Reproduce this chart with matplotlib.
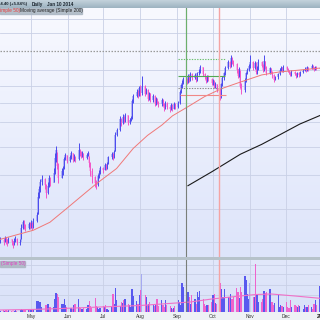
import matplotlib
matplotlib.use("Agg")
import numpy as np
import pandas as pd
import matplotlib.pyplot as plt
import matplotlib.dates as mdates
import matplotlib.transforms as mtransforms
from matplotlib.colors import LinearSegmentedColormap
from matplotlib.ticker import NullLocator

plt.rcParams['font.family'] = ['Liberation Sans', 'DejaVu Sans']

# daily closes / highs / lows (Apr 5 2013 .. Dec 30 2013)
close = [22.0, 21.8, 22.3, 21.9, 21.6, 22.1, 21.7, 21.5, 21.9, 22.2, 21.6, 21.8,
         23.8, 24.6, 24.1, 23.7, 24.3, 24.0, 24.5, 23.9, 24.8,
         25.7,
         28.8, 30.2, 31.6, 32.3, 31.0, 29.6, 30.8, 32.4, 31.5,
         33.5, 36.8, 38.6,
         35.0, 32.5, 33.8, 34.2,
         36.5, 37.4, 36.0, 36.9, 37.8, 36.3, 37.0, 36.4,
         38.5,
         38.0, 37.2, 37.9, 36.8, 37.5, 37.9,
         35.5, 33.8, 32.6, 31.4, 31.0,
         32.8, 33.4, 34.5, 34.0, 35.2, 34.6, 35.4,
         36.9, 37.6, 36.8, 38.2,
         42.5, 43.8,
         46.8, 45.6, 47.5, 46.2, 47.9, 45.8, 46.6, 47.2,
         52.5, 54.0,
         55.6, 54.3, 56.8, 55.0, 57.5, 54.8, 56.2,
         53.2, 55.0, 52.6, 54.2, 51.5, 53.0, 52.2, 51.3, 52.8,
         51.5, 50.2, 51.8, 50.6, 49.8, 51.2, 50.0, 51.6, 50.4, 51.9,
         55.5, 57.8, 58.6,
         60.2, 58.9, 61.3, 59.8, 62.0, 60.5, 61.6, 59.6, 62.4, 63.0, 64.8,
         62.0, 60.8, 59.4, 61.2, 60.0, 58.6,
         59.2, 57.4, 58.3, 56.1, 53.8,
         58.2, 60.5, 62.3,
         64.5, 66.8, 65.0, 68.6, 67.2, 66.0,
         63.5, 61.2, 64.0, 57.4, 56.2, 59.8, 62.5,
         63.8, 65.2, 67.0, 64.6, 66.5, 62.8, 64.2, 66.8, 65.4, 63.5, 67.2,
         65.0, 62.6, 64.4, 63.0,
         61.5, 59.9, 60.8, 62.0,
         63.8, 64.6, 63.2, 65.0, 64.2, 63.6,
         62.4, 61.8, 63.0, 62.0, 61.2, 62.6, 61.5, 62.8, 63.4,
         64.2, 63.6, 64.8, 63.9, 65.2, 64.5, 63.8, 64.9, 64.1, 64.4]

high = [22.4, 22.3, 22.6, 22.4, 22.1, 22.4, 22.2, 21.9, 22.3, 22.6, 22.3, 22.2,
        24.4, 25.0, 24.9, 24.3, 24.7, 24.6, 24.9, 24.6, 25.2,
        26.3,
        29.8, 30.9, 32.3, 33.0, 32.4, 31.2, 31.6, 33.0, 32.6,
        34.6, 37.8, 39.6,
        38.2, 35.6, 34.6, 35.0,
        37.0, 38.0, 37.5, 37.4, 38.3, 37.9, 37.6, 37.2,
        40.4,
        38.8, 38.3, 38.4, 37.9, 38.0, 38.4,
        37.2, 35.9, 34.5, 32.9, 32.0,
        33.2, 34.0, 35.0, 34.8, 35.6, 35.4, 35.9,
        37.3, 38.1, 37.8, 38.6,
        43.2, 44.4,
        47.6, 47.2, 48.2, 47.8, 48.6, 48.0, 47.3, 47.8,
        53.2, 54.8,
        56.5, 56.0, 57.6, 58.0, 61.2, 57.9, 57.0,
        56.4, 55.6, 55.2, 54.9, 54.6, 53.6, 53.4, 52.5, 53.4,
        53.0, 51.9, 52.4, 52.0, 50.9, 51.8, 51.5, 52.2, 51.8, 52.4,
        56.2, 58.4, 59.6,
        61.0, 60.6, 62.2, 61.8, 62.8, 62.4, 62.3, 61.7, 63.0, 64.0, 65.8,
        65.0, 62.6, 61.4, 61.8, 61.6, 60.5,
        60.0, 59.6, 58.9, 58.4, 56.8,
        58.8, 61.2, 63.0,
        65.3, 67.6, 67.4, 69.8, 69.0, 67.8,
        66.5, 64.2, 64.8, 63.6, 58.8, 60.6, 63.0,
        64.6, 66.0, 69.7, 67.4, 67.4, 66.8, 65.1, 68.0, 67.2, 65.9, 70.0,
        67.5, 65.4, 65.0, 64.6,
        63.4, 61.9, 61.4, 62.6,
        64.3, 65.2, 64.9, 65.6, 65.3, 64.6,
        63.8, 62.9, 63.5, 63.4, 62.5, 63.0, 62.8, 63.3, 64.0,
        64.8, 64.6, 65.3, 65.0, 65.9, 65.6, 64.8, 65.4, 65.1, 65.0]

low = [21.6, 21.4, 21.8, 21.5, 21.2, 21.6, 21.3, 21.0, 21.4, 21.7, 21.3, 21.4,
       22.1, 23.6, 23.6, 23.3, 23.6, 23.6, 23.8, 23.4, 23.8,
       24.6,
       25.9, 28.6, 29.8, 31.0, 30.3, 28.7, 29.4, 30.6, 30.8,
       31.6, 33.2, 35.8,
       34.4, 31.5, 32.4, 33.0,
       34.2, 36.2, 35.6, 35.8, 36.5, 35.9, 36.1, 35.8,
       36.2,
       37.2, 36.8, 36.9, 36.3, 36.6, 37.1,
       34.8, 32.8, 31.5, 30.6, 30.2,
       30.9, 32.5, 33.3, 33.5, 34.0, 34.1, 34.3,
       35.3, 36.5, 36.3, 36.7,
       38.4, 42.1,
       43.6, 44.9, 45.3, 45.6, 46.0, 45.2, 45.5, 46.2,
       47.0, 51.8,
       53.6, 53.5, 54.0, 54.2, 54.6, 54.0, 54.9,
       52.4, 52.8, 52.1, 52.0, 50.9, 51.2, 51.5, 50.6, 50.9,
       50.8, 49.4, 49.8, 50.0, 49.1, 49.5, 49.4, 49.8, 49.9, 50.1,
       51.6, 55.0, 57.0,
       58.2, 58.2, 58.6, 59.2, 59.4, 59.9, 60.0, 58.9, 59.5, 61.8, 62.6,
       61.4, 60.0, 58.7, 58.9, 59.3, 57.9,
       58.0, 56.8, 57.0, 55.4, 52.6,
       53.4, 57.6, 59.8,
       61.8, 63.9, 64.3, 64.8, 66.0, 65.2,
       62.6, 60.4, 60.8, 57.0, 54.8, 55.6, 59.2,
       61.9, 63.2, 64.5, 63.8, 64.0, 62.0, 62.2, 63.8, 64.8, 62.9, 63.2,
       64.1, 61.8, 62.0, 62.4,
       60.6, 59.0, 59.8, 60.1,
       61.8, 63.4, 62.7, 63.0, 63.6, 63.0,
       61.9, 61.2, 61.4, 61.5, 60.6, 61.0, 60.9, 61.3, 62.6,
       63.1, 62.9, 63.4, 63.2, 63.9, 64.0, 63.1, 63.6, 63.5, 63.7]

# volume, millions of shares
volume = [0.15, 0.2, 0.15, 0.2, 0.1, 0.2, 0.15, 0.2, 0.15, 0.2, 0.15, 0.2,
          0.3, 0.25, 0.2, 0.2, 0.25, 0.2, 0.3, 0.35, 0.3,
          1.1, 1.1, 1.0, 1.0, 0.5, 0.7, 0.7, 0.8, 0.8, 0.5,
          0.5, 1.3, 1.9, 1.8, 1.5, 0.8, 0.8, 1.3, 0.7, 0.5,
          0.4, 0.4, 0.3, 0.7, 0.8, 1.3, 0.5, 0.4, 0.3, 0.4,
          0.3, 0.7, 1.1, 0.6, 0.4, 1.4, 0.6, 0.5, 0.3, 0.4,
          0.6, 0.5, 0.7, 0.3, 0.25, 0.6, 1.8, 0.8, 2.4, 1.2,
          0.6, 1.0, 0.9, 1.2, 1.3, 0.8, 0.7, 0.5, 2.3, 1.6,
          1.1, 0.8, 1.7, 2.2, 3.8, 1.7, 1.5, 0.7, 0.8, 1.0,
          0.7, 0.6, 0.8, 1.3, 0.6, 1.2, 0.7, 0.5, 1.2, 0.7,
          0.6, 0.4, 0.3, 0.4, 0.6, 1.2, 1.0, 0.7, 2.9, 2.5,
          3.3, 2.0, 1.5, 0.8, 1.7, 1.3, 0.8, 2.0, 1.5, 2.1,
          1.3, 0.8, 0.6, 0.7, 0.7, 1.0, 1.7, 1.8, 0.9, 0.8,
          2.9, 2.3, 1.5, 1.5, 2.3, 1.5, 1.5, 1.8, 1.3, 1.5,
          2.4, 2.0, 1.4, 2.5, 2.0, 3.6, 3.2, 1.8, 1.3, 2.9,
          1.5, 1.5, 4.8, 1.8, 1.0, 1.0, 1.3, 2.1, 1.9, 2.0,
          2.3, 1.0, 1.0, 0.7, 0.9, 1.7, 0.5, 0.7, 0.6, 0.5,
          1.0, 0.5, 0.4, 1.2, 0.5, 0.7, 0.6, 0.5, 0.7, 0.6,
          0.3, 0.7, 0.5, 0.5, 0.7, 0.5, 0.3, 0.8, 1.2, 0.7,
          2.6]

# moving averages, sampled at trading-day indexes
ma50_day = [0, 20, 30, 40, 56, 70, 80, 88, 96, 103, 112, 122, 132, 142, 156, 166, 191]
ma50_val = [22.1, 23.4, 24.6, 26.8, 31.1, 34.4, 39.0, 42.3, 45.1, 47.8, 50.6, 53.9,
            56.6, 58.7, 61.7, 62.8, 64.4]
ma200_day = [112, 126, 144, 156, 168, 180, 191]
ma200_val = [30.9, 33.7, 37.6, 40.0, 42.6, 45.4, 47.9]
volma_day = [0, 18, 36, 60, 84, 114, 126, 144, 153, 162, 176, 191]
volma_val = [0.2, 0.25, 0.35, 0.5, 0.65, 1.0, 1.3, 1.6, 1.75, 1.8, 1.6, 1.37]

# drawn annotation lines
level_price = [68.1, 61.3, 57.0, 54.3]
level_start = ["2013-09-02", "2013-09-02", "2013-09-02", "2013-09-03"]
level_end = ["2013-10-11", "2013-10-11", "2013-10-09", "2013-10-12"]
resist_price = 71.8
vline_dates = ["2013-09-08", "2013-10-06"]

grid_prices = [21.7, 26.8, 33.1, 39.4, 45.9, 51.9, 57.6, 63.6, 80.2, 87.5]
vol_grid = [1.7, 2.7, 3.8, 4.7]
month_labels = ["May", "Jun", "Jul", "Aug", "Sep", "Oct", "Nov", "Dec"]
month_dates = ["2013-05-01", "2013-06-01", "2013-07-01", "2013-08-01",
               "2013-09-01", "2013-10-01", "2013-11-01", "2013-12-01"]

dates = pd.bdate_range("2013-04-05", periods=len(close))
x = mdates.date2num(dates)
close = np.array(close); high = np.array(high); low = np.array(low)
openp = np.r_[close[0], close[:-1]]
up = close >= openp
mid = (high + low) / 2

BLUE, LBLUE = "#4a4aee", "#a0a4f2"
PINK, LPINK = "#f255c8", "#f4a8e2"
bar_col = np.where(up, BLUE, PINK)
vol_col = [(BLUE if c >= m else LBLUE) if u else (PINK if c <= m else LPINK)
           for u, c, m in zip(up, close, mid)]

W = 320.0
fig = plt.figure(figsize=(3.2, 3.2), dpi=100, facecolor="#eef1f5")

def fy(px):
    return 1 - px / W

ax = fig.add_axes([0, fy(257), 1, fy(8) - fy(257)])
axv = fig.add_axes([0, fy(312), 1, fy(260) - fy(312)])

xl = (mdates.date2num(pd.Timestamp("2013-04-05")), mdates.date2num(pd.Timestamp("2013-12-30")))

def gradient(a, c1, c2):
    cm = LinearSegmentedColormap.from_list("g", [c2, c1])
    a.imshow(np.linspace(0, 1, 100).reshape(-1, 1), aspect="auto", cmap=cm,
             extent=[0, 1, 0, 1], transform=a.transAxes, origin="lower", zorder=0)

for a in (ax, axv):
    for s in a.spines.values():
        s.set_visible(False)
    a.set_xlim(*xl)
    a.set_xticks(mdates.date2num(pd.to_datetime(month_dates)))
    a.tick_params(length=0, labelleft=False, labelbottom=False)
    a.grid(True, color="#c9d0e6", lw=0.6, zorder=1)

gradient(ax, "#f8f9ff", "#dde4fa")
gradient(axv, "#e2e8fb", "#d9e1f8")

# price panel
ax.set_yscale("log")
ax.set_ylim(19.8, 93.7)
ax.set_yticks(grid_prices)
ax.yaxis.set_minor_locator(NullLocator())
ax.tick_params(which="both", length=0, labelleft=False, labelbottom=False)

ax.vlines(x, low, high, colors=bar_col, lw=0.7, zorder=3)
ax.vlines(x, np.minimum(openp, close), np.maximum(openp, close),
          colors=np.where(up, LBLUE, LPINK), lw=1.4, alpha=0.8, zorder=2.9)

ax.plot(x[ma50_day], ma50_val, color="#f07878", lw=0.7, zorder=4)
ax.plot(x[ma200_day], ma200_val, color="#1a1a1a", lw=0.8, zorder=4)

ax.axhline(resist_price, color="#9a9a9a", lw=0.9, ls=(0, (1.2, 1.2)), zorder=4)
ls_list = [(0, (1.2, 1.2)), "-", (0, (1.2, 1.2)), "-"]
col_list = ["#6cbf6c", "#52a852", "#8c8c8c", "#f08888"]
for p, s, e, st, c in zip(level_price, level_start, level_end, ls_list, col_list):
    ax.hlines(p, mdates.date2num(pd.Timestamp(s)), mdates.date2num(pd.Timestamp(e)),
              colors=c, lw=0.8, linestyles=st, zorder=5)

vx = mdates.date2num(pd.to_datetime(vline_dates))
for a in (ax, axv):
    a.axvline(vx[0], color="#7a7f7a", lw=0.8, zorder=5)
    a.axvline(vx[1], color="#f4a4a4", lw=1.0, zorder=5)
ax.vlines(vx[0], 50.5, 93.7, colors="#6cb06c", lw=0.8, zorder=5.1)

# volume panel
axv.set_ylim(0, 5.2)
axv.set_yticks(vol_grid)
axv.bar(x, volume, width=1.0, color=vol_col, alpha=0.9, zorder=3)
axv.plot(x[volma_day], volma_val, color="#f070c8", lw=0.8, zorder=4)

trans = mtransforms.blended_transform_factory(axv.transData, axv.transAxes)
for d, lab in zip(month_dates, month_labels):
    axv.text(mdates.date2num(pd.Timestamp(d)), -0.03, lab, transform=trans,
             ha="center", va="top", fontsize=3.5, color="#333333", clip_on=False)
axv.text(mdates.date2num(pd.Timestamp("2014-01-01")), -0.03, "2014", transform=trans,
         ha="center", va="top", fontsize=3.8, fontweight="bold", color="#222222",
         clip_on=False)

# header bar and strips
hdr = fig.add_axes([0, fy(8), 1, 8 / W])
hdr.set_axis_off()
gradient(hdr, "#c4d2dc", "#9cb2c0")
band = fig.add_axes([0, fy(260), 1, 3 / W])
band.set_axis_off()
band.add_patch(plt.Rectangle((0, 0), 1, 1, color="#b6c2ca", transform=band.transAxes))

fig.text(-2.5 / W, fy(4.2), "64.40 (+5.84%)", fontsize=3.1, fontweight="bold",
         color="#1c2630", va="center", ha="left")
fig.text(32 / W, fy(4.2), "Daily", fontsize=3.3, fontweight="bold",
         color="#1c2630", va="center", ha="left")
fig.text(47 / W, fy(4.2), "Jan 10 2014", fontsize=3.3, fontweight="bold",
         color="#1c2630", va="center", ha="left")

fig.patches.append(plt.Rectangle((0, fy(13.8)), 82 / W, 5.8 / W, transform=fig.transFigure,
                                 color="#aab6c2", alpha=0.85, zorder=10))
fig.text(-3 / W, fy(10.9), "Simple 50)", fontsize=3.4, color="#e83a3a",
         va="center", ha="left", zorder=11)
fig.text(20.5 / W, fy(10.9), "Moving average (Simple 200)", fontsize=3.4,
         color="#222222", va="center", ha="left", zorder=11)

fig.patches.append(plt.Rectangle((0, fy(267)), 25 / W, 6.5 / W, transform=fig.transFigure,
                                 color="#aab6c2", alpha=0.85, zorder=10))
fig.text(1 / W, fy(263.8), "(Simple 50)", fontsize=3.4, color="#e040c0",
         va="center", ha="left", zorder=11)

fig.savefig("out.png", dpi=100, facecolor=fig.get_facecolor())
